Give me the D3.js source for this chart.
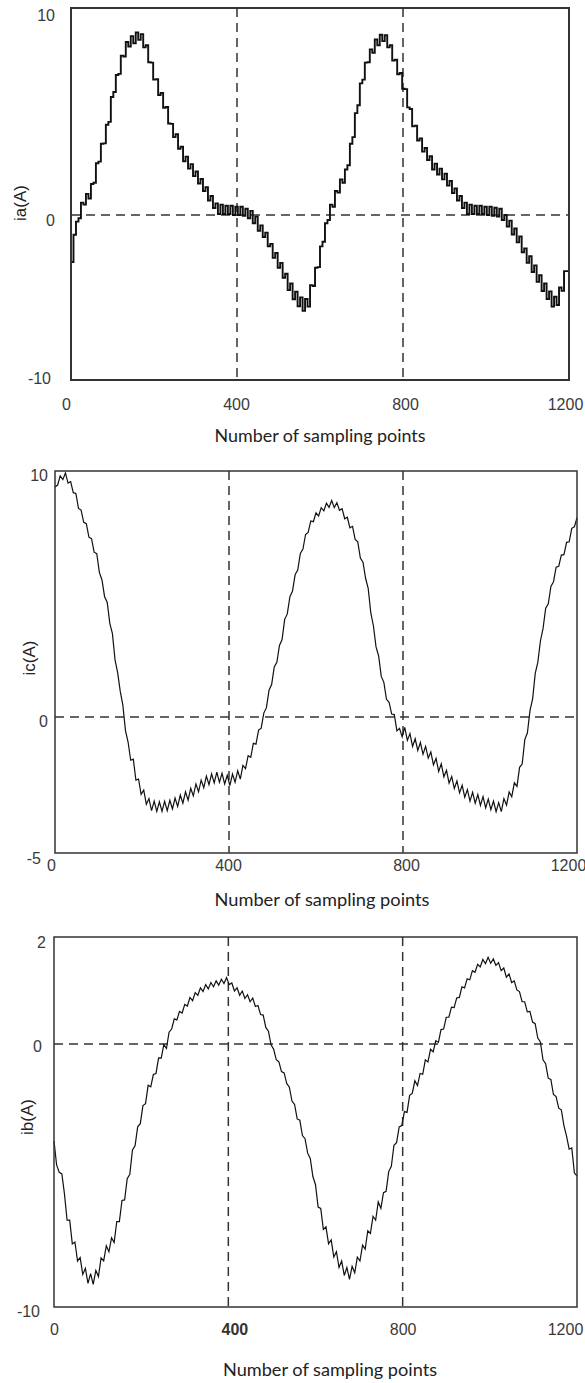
<!DOCTYPE html>
<html>
<head>
<meta charset="utf-8">
<script src="https://cdn.jsdelivr.net/npm/d3@7"></script>
<style>
  body { margin: 0; background: #fff; }
  svg { display: block; }
</style>
</head>
<body>
<div id="chart"></div>
<script>
// Courants de phase ia, ic, ib, un point tous les 6 échantillons (0..1200)
const sampleStep = 6;
const xTicks = [0, 400, 800, 1200];
const refX = [400, 800];

const iaTicks = [-10, 0, 10];
const icTicks = [-5, 0, 10];
const ibTicks = [-10, 0, 2];

const iaValues = [
  -2.85, -1.2, -0.4, -0.2, 0.6, 0.5, 1.02, 0.8, 1.5, 1.56,
  2.5, 2.58, 3.44, 3.46, 4.36, 4.5, 5.7, 5.94, 6.76, 6.82,
  7.7, 7.66, 8.36, 8.14, 8.64, 8.3, 8.82, 8.46, 8.74, 8.1,
  8.2, 7.38, 7.36, 6.54, 6.56, 5.8, 5.9, 5.18, 5.22, 4.42,
  4.4, 3.76, 3.9, 3.2, 3.3, 2.6, 2.82, 2.24, 2.46, 1.88,
  2.1, 1.52, 1.74, 1.16, 1.34, 0.7, 0.92, 0.34, 0.56, 0.05,
  0.5, 0.05, 0.45, 0.05, 0.45, 0.0, 0.4, 0.0, 0.4, -0.05,
  0.3, -0.2, 0.2, -0.5, -0.1, -0.95, -0.63, -1.33, -1.07, -1.89,
  -1.75, -2.6, -2.3, -3.2, -2.9, -3.8, -3.56, -4.55, -4.15, -5.11,
  -4.65, -5.53, -4.99, -5.81, -5.09, -5.55, -4.25, -4.3, -3.2, -3.16,
  -1.9, -1.62, -0.5, -0.3, 0.5, 0.4, 1.16, 1.08, 1.72, 1.56,
  2.2, 2.4, 3.44, 3.76, 4.92, 5.3, 6.36, 6.54, 7.36, 7.38,
  8.0, 7.84, 8.48, 8.2, 8.71, 8.4, 8.68, 8.1, 8.2, 7.46,
  7.5, 6.8, 6.86, 6.1, 6.08, 5.2, 5.12, 4.28, 4.32, 3.6,
  3.7, 3.06, 3.24, 2.66, 2.84, 2.2, 2.48, 1.96, 2.24, 1.72,
  2.0, 1.42, 1.64, 1.06, 1.28, 0.7, 0.92, 0.34, 0.6, 0.05,
  0.5, 0.05, 0.45, 0.05, 0.45, 0.05, 0.4, 0.0, 0.4, -0.05,
  0.35, -0.1, 0.3, -0.3, 0.0, -0.7, -0.34, -1.18, -0.82, -1.66,
  -1.3, -2.26, -2.02, -2.9, -2.5, -3.45, -3.05, -4.05, -3.65, -4.61,
  -4.15, -5.09, -4.63, -5.55, -4.95, -5.45, -4.39, -4.6, -3.4, -3.4,
  -2.3
];

const icValues = [
  9.35, 9.43, 9.8, 9.65, 9.92, 9.51, 9.57, 9.12, 9.09, 8.48,
  8.41, 7.91, 7.86, 7.31, 7.25, 6.7, 6.64, 5.88, 5.57, 4.89,
  4.67, 3.81, 3.39, 2.32, 1.8, 1.04, 0.48, -0.5, -0.92, -1.59,
  -1.55, -2.32, -2.28, -2.84, -2.69, -3.21, -3.0, -3.44, -3.09, -3.47,
  -3.12, -3.47, -3.1, -3.44, -3.06, -3.38, -2.98, -3.29, -2.87, -3.17,
  -2.75, -3.06, -2.62, -2.9, -2.46, -2.75, -2.32, -2.6, -2.17, -2.49,
  -2.09, -2.42, -2.03, -2.4, -2.07, -2.46, -2.14, -2.52, -2.1, -2.4,
  -1.98, -2.28, -1.78, -1.9, -1.42, -1.48, -0.97, -1.0, -0.48, -0.41,
  0.16, 0.38, 1.09, 1.32, 2.03, 2.22, 2.91, 3.15, 3.97, 4.19,
  4.89, 5.12, 5.78, 5.97, 6.65, 6.83, 7.42, 7.5, 7.97, 7.94,
  8.3, 8.17, 8.51, 8.38, 8.69, 8.52, 8.8, 8.51, 8.71, 8.4,
  8.47, 8.06, 8.12, 7.69, 7.75, 7.22, 7.12, 6.46, 6.29, 5.64,
  5.23, 4.23, 3.7, 2.85, 2.48, 1.65, 1.41, 0.72, 0.6, 0.12,
  0.1, -0.51, -0.42, -0.73, -0.38, -0.86, -0.61, -1.08, -0.8, -1.23,
  -0.94, -1.37, -1.08, -1.51, -1.29, -1.76, -1.52, -2.0, -1.72, -2.2,
  -1.96, -2.43, -2.19, -2.63, -2.35, -2.79, -2.51, -2.95, -2.67, -3.09,
  -2.77, -3.17, -2.85, -3.25, -2.93, -3.34, -3.02, -3.41, -3.09, -3.48,
  -3.15, -3.48, -3.0, -3.24, -2.76, -2.93, -2.42, -2.55, -1.85, -1.73,
  -0.83, -0.58, 0.27, 0.74, 1.77, 2.23, 3.1, 3.6, 4.42, 4.6,
  5.31, 5.5, 6.09, 6.13, 6.58, 6.6, 7.1, 7.12, 7.67, 7.73,
  8.1
];

const ibValues = [
  -3.69, -4.6, -4.88, -4.94, -5.7, -6.7, -6.7, -7.6, -7.53, -8.25,
  -8.12, -8.76, -8.53, -9.1, -8.73, -9.14, -8.61, -8.84, -8.13, -8.25,
  -7.67, -7.9, -7.37, -7.55, -6.75, -6.75, -5.95, -5.93, -5.12, -4.95,
  -4.03, -3.87, -3.15, -3.03, -2.34, -2.27, -1.57, -1.63, -1.16, -1.12,
  -0.53, -0.54, -0.02, -0.17, 0.22, 0.28, 0.47, 0.45, 0.61, 0.58,
  0.74, 0.71, 0.87, 0.81, 0.96, 0.91, 1.05, 0.98, 1.11, 1.03,
  1.15, 1.07, 1.18, 1.1, 1.21, 1.13, 1.24, 1.11, 1.14, 0.99,
  1.05, 0.91, 0.99, 0.85, 0.92, 0.79, 0.86, 0.7, 0.72, 0.55,
  0.54, 0.31, 0.24, -0.03, -0.2, -0.6, -0.68, -1.05, -1.1, -1.5,
  -1.64, -2.17, -2.3, -2.85, -2.9, -3.48, -3.6, -4.15, -4.35, -5.04,
  -5.35, -6.2, -6.25, -7.05, -6.95, -7.6, -7.45, -8.1, -7.9, -8.5,
  -8.25, -8.8, -8.5, -8.95, -8.45, -8.7, -8.1, -8.25, -7.65, -7.8,
  -7.1, -7.2, -6.55, -6.7, -6.0, -6.25, -5.65, -5.6, -4.85, -4.65,
  -3.85, -3.75, -3.15, -3.1, -2.57, -2.6, -1.95, -1.88, -1.4, -1.58,
  -1.12, -1.15, -0.6, -0.68, -0.2, -0.3, 0.06, 0.03, 0.27, 0.28,
  0.5, 0.5, 0.69, 0.68, 0.86, 0.87, 1.07, 1.05, 1.22, 1.2,
  1.37, 1.34, 1.49, 1.44, 1.58, 1.5, 1.62, 1.51, 1.59, 1.47,
  1.52, 1.37, 1.42, 1.25, 1.31, 1.15, 1.18, 1.01, 0.98, 0.79,
  0.79, 0.6, 0.61, 0.41, 0.38, 0.11, 0.04, -0.6, -0.75, -1.3,
  -1.35, -1.92, -2.0, -2.44, -2.5, -3.1, -3.5, -4.0, -3.95, -4.9,
  -5.02
];

// Mise en page des trois panneaux (pixels)
const panels = [
  {
    label: 'ia(A)', values: iaValues, yTicks: iaTicks, stepped: true,
    left: 71, right: 569, top: 8, bottom: 380, zeroY: 215,
    lineWidth: 1.9, frameWidth: 2,
    yPad: 16, yDx: [-4, 0, 0], yDy: [-2, 5, 7],
    xPad: 19, xDx: [-5, -1, 2, -4], boldTick: -1,
    yLabelX: 20, yLabelY: 203,
    titleX: 320, titleY: 436, titleW: 211
  },
  {
    label: 'ic(A)', values: icValues, yTicks: icTicks, stepped: false,
    left: 55, right: 577, top: 471, bottom: 853, zeroY: 717,
    lineWidth: 1.2, frameWidth: 1.5,
    yPad: 7, yDx: [-7, 0, 0], yDy: [5, 4, 4],
    xPad: 7, xDx: [-4, -1, 3, -9], boldTick: -1,
    yLabelX: 29, yLabelY: 658,
    titleX: 322, titleY: 900, titleW: 215
  },
  {
    label: 'ib(A)', values: ibValues, yTicks: ibTicks, stepped: false,
    left: 54, right: 577, top: 937, bottom: 1307, zeroY: 1044,
    lineWidth: 1.2, frameWidth: 1.5,
    yPad: 12, yDx: [-2, 0, 4], yDy: [4, 2, 5],
    xPad: 17, xDx: [0, 6, 0, -12], boldTick: 1,
    yLabelX: 27, yLabelY: 1117,
    titleX: 330, titleY: 1370, titleW: 214
  }
];

const width = 585;
const height = 1383;
const tickFont = '"Liberation Sans", Arial, sans-serif';

const svg = d3.select('#chart').append('svg')
    .attr('width', width)
    .attr('height', height);

panels.forEach(p => {
    const x = d3.scaleLinear().domain([0, 1200]).range([p.left, p.right]);
    // échelle par morceaux : le zéro n'est pas au milieu
    const y = d3.scaleLinear()
        .domain([p.yTicks[0], 0, p.yTicks[2]])
        .range([p.bottom, p.zeroY, p.top]);

    const g = svg.append('g');

    // lignes de repère en tirets
    g.append('line')
        .attr('x1', p.left).attr('x2', p.right)
        .attr('y1', y(0)).attr('y2', y(0))
        .attr('stroke', '#333').attr('stroke-width', 1.5)
        .attr('stroke-dasharray', '9,6');

    g.selectAll('.vref').data(refX).enter().append('line')
        .attr('x1', d => x(d)).attr('x2', d => x(d))
        .attr('y1', p.top).attr('y2', p.bottom)
        .attr('stroke', '#333').attr('stroke-width', 1.5)
        .attr('stroke-dasharray', '9,6');

    // courbe
    const line = d3.line()
        .x((d, i) => x(i * sampleStep))
        .y(d => y(d))
        .curve(p.stepped ? d3.curveStepAfter : d3.curveLinear);

    g.append('path')
        .datum(p.values)
        .attr('fill', 'none')
        .attr('stroke', '#111')
        .attr('stroke-width', p.lineWidth)
        .attr('d', line);

    // cadre
    g.append('rect')
        .attr('x', p.left).attr('y', p.top)
        .attr('width', p.right - p.left).attr('height', p.bottom - p.top)
        .attr('fill', 'none')
        .attr('stroke', '#333')
        .attr('stroke-width', p.frameWidth);

    // axe Y
    const yAxis = g.append('g')
        .attr('transform', `translate(${p.left},0)`)
        .call(d3.axisLeft(y).tickValues(p.yTicks).tickSize(0)
            .tickPadding(p.yPad).tickFormat(d => String(d)));
    yAxis.select('.domain').remove();
    yAxis.selectAll('text')
        .attr('x', (d, i) => -p.yPad + p.yDx[i])
        .attr('y', (d, i) => p.yDy[i])
        .style('font-family', tickFont)
        .style('font-size', '16px')
        .style('fill', '#3a3a3a');

    // axe X
    const xAxis = g.append('g')
        .attr('transform', `translate(0,${p.bottom})`)
        .call(d3.axisBottom(x).tickValues(xTicks).tickSize(0)
            .tickPadding(p.xPad).tickFormat(d => String(d)));
    xAxis.select('.domain').remove();
    xAxis.selectAll('text')
        .attr('x', (d, i) => p.xDx[i])
        .style('font-family', tickFont)
        .style('font-size', '16px')
        .style('font-weight', (d, i) => i === p.boldTick ? 'bold' : 'normal')
        .style('fill', (d, i) => i === p.boldTick ? '#333' : '#3a3a3a');

    // titres
    g.append('text')
        .attr('transform', `translate(${p.yLabelX},${p.yLabelY}) rotate(-90)`)
        .attr('text-anchor', 'middle')
        .attr('dy', '0.35em')
        .style('font-family', tickFont)
        .style('font-size', '17px')
        .style('fill', '#222')
        .text(p.label);

    g.append('text')
        .attr('x', p.titleX - p.titleW / 2)
        .attr('y', p.titleY)
        .attr('dy', '0.35em')
        .attr('textLength', p.titleW)
        .attr('lengthAdjust', 'spacingAndGlyphs')
        .style('font-family', 'Lato, "Open Sans", sans-serif')
        .style('font-size', '17px')
        .style('fill', '#222')
        .text('Number of sampling points');
});
</script>
</body>
</html>
